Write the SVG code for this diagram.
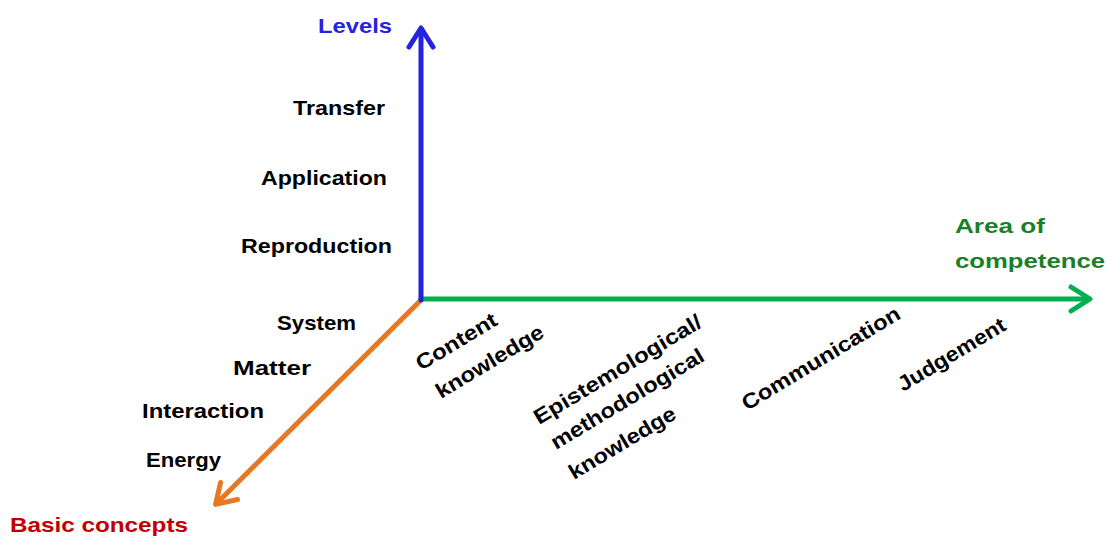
<svg xmlns="http://www.w3.org/2000/svg" width="1107" height="538" viewBox="0 0 1107 538">
<style>
text{font-family:"Liberation Sans",Arial,sans-serif;font-weight:bold;font-size:21px;fill:#000}
.ax{fill:none;stroke-width:5;stroke-linecap:round;stroke-linejoin:round}
</style>
<defs>
<marker id="mb" markerUnits="userSpaceOnUse" viewBox="-25 -16 32 32" markerWidth="32" markerHeight="32" refX="0" refY="0" orient="auto" overflow="visible"><path d="M-17,-12 L2,0 L-17,12" fill="none" stroke="#2323e0" stroke-width="5" stroke-linecap="round" stroke-linejoin="round"/></marker>
<marker id="mg" markerUnits="userSpaceOnUse" viewBox="-25 -16 32 32" markerWidth="32" markerHeight="32" refX="0" refY="0" orient="auto" overflow="visible"><path d="M-17,-12 L2,0 L-17,12" fill="none" stroke="#00b050" stroke-width="5" stroke-linecap="round" stroke-linejoin="round"/></marker>
<marker id="mo" markerUnits="userSpaceOnUse" viewBox="-25 -16 32 32" markerWidth="32" markerHeight="32" refX="0" refY="0" orient="auto" overflow="visible"><path d="M-17,-12 L2,0 L-17,12" fill="none" stroke="#e87722" stroke-width="5" stroke-linecap="round" stroke-linejoin="round"/></marker>
</defs>
<g id="connectors">
<line class="ax" x1="421" y1="300" x2="217" y2="503" stroke="#e87722" marker-end="url(#mo)"/>
<line class="ax" x1="421" y1="299" x2="1088" y2="299" stroke="#00b050" marker-end="url(#mg)"/>
<line class="ax" x1="421" y1="300" x2="421" y2="30" stroke="#2323e0" marker-end="url(#mb)"/>
</g>
<g id="levels-axis">
<text x="318" y="33" fill="#2323e0" style="fill:#2323e0" textLength="74" lengthAdjust="spacingAndGlyphs">Levels</text>
<text x="293" y="115" textLength="92" lengthAdjust="spacingAndGlyphs">Transfer</text>
<text x="261" y="185" textLength="126" lengthAdjust="spacingAndGlyphs">Application</text>
<text x="241" y="253" textLength="151" lengthAdjust="spacingAndGlyphs">Reproduction</text>
</g>
<g id="competence-axis">
<text x="955" y="233" style="fill:#1a7f2a" textLength="90" lengthAdjust="spacingAndGlyphs">Area of</text>
<text x="955" y="268" style="fill:#1a7f2a" textLength="150" lengthAdjust="spacingAndGlyphs">competence</text>
<text transform="translate(421,371) rotate(-31)" textLength="91" lengthAdjust="spacingAndGlyphs">Content</text>
<text transform="translate(441,399) rotate(-31)" textLength="122" lengthAdjust="spacingAndGlyphs">knowledge</text>
<text transform="translate(539,425) rotate(-31)" textLength="192" lengthAdjust="spacingAndGlyphs">Epistemological/</text>
<text transform="translate(556,450) rotate(-31)" textLength="175" lengthAdjust="spacingAndGlyphs">methodological</text>
<text transform="translate(574,480) rotate(-31)" textLength="121" lengthAdjust="spacingAndGlyphs">knowledge</text>
<text transform="translate(747,411) rotate(-31)" textLength="181" lengthAdjust="spacingAndGlyphs">Communication</text>
<text transform="translate(903,392) rotate(-31)" textLength="122" lengthAdjust="spacingAndGlyphs">Judgement</text>
</g>
<g id="concepts-axis">
<text x="277" y="330" textLength="79" lengthAdjust="spacingAndGlyphs">System</text>
<text x="233" y="375" textLength="78" lengthAdjust="spacingAndGlyphs">Matter</text>
<text x="142" y="418" textLength="122" lengthAdjust="spacingAndGlyphs">Interaction</text>
<text x="146" y="467" textLength="75" lengthAdjust="spacingAndGlyphs">Energy</text>
<text x="10" y="532" style="fill:#c00000" textLength="178" lengthAdjust="spacingAndGlyphs">Basic concepts</text>
</g>
</svg>
